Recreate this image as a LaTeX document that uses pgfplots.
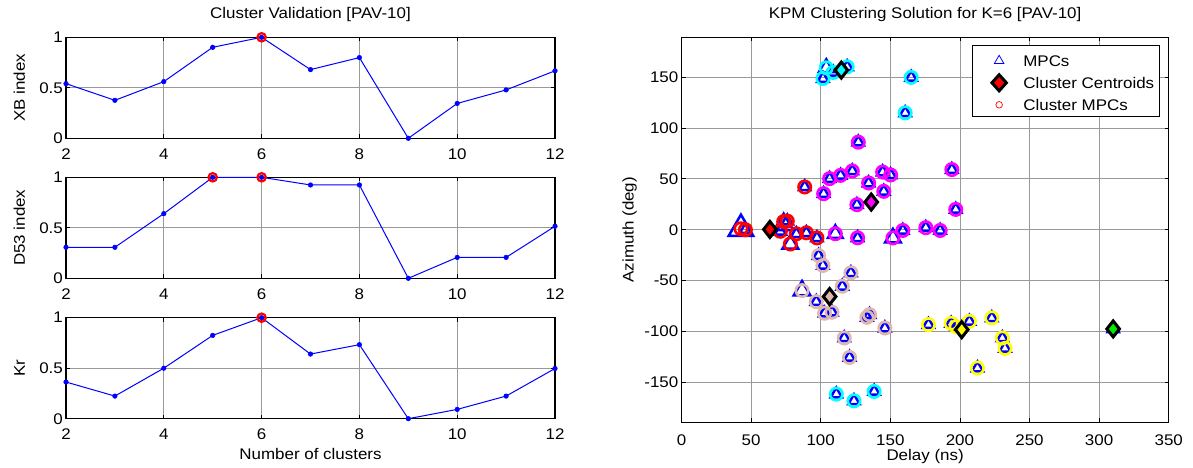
\documentclass[border=0pt]{standalone}
\usepackage{fontspec}
\setmainfont{Liberation Sans}[FakeStretch=1.1]
\usepackage{pgfplots}
\pgfplotsset{compat=1.18}
\definecolor{mblue}{rgb}{0,0,1}
\definecolor{mbrown}{RGB}{222,184,172}
\definecolor{mgreen}{RGB}{0,235,0}
\definecolor{mcyan}{rgb}{0,1,1}
\definecolor{mmag}{rgb}{1,0,1}
\definecolor{myel}{rgb}{1,1,0}

\pgfplotsset{
 common/.style={
  scale only axis, anchor=south west, clip=false,
  grid=major, major grid style={draw=black!40, line width=0.8pt},
  tick align=inside, major tick length=4pt,
  every tick/.style={black, line width=0.8pt},
  axis line style={line width=1.2pt},
  /pgf/number format/assume math mode=true,
  yticklabel style={anchor=east, inner sep=0pt, xshift=-3pt},
 },
 leftax/.style={
  common, width=489pt, height=101pt,
  xmin=2,xmax=12,ymin=0,ymax=1,
  xtick={2,4,6,8,10,12}, xticklabels={2,4,6,8,10,12},
  ytick={0,0.5,1}, yticklabels={0,0.5,1},
  xticklabel style={anchor=base, inner sep=0pt, yshift=-21pt},
  ylabel style={at={([xshift=-41pt]axis description cs:0,0.5)}, anchor=base},
 },
 vline/.style={mblue, line width=1pt, mark=*, mark size=2.3pt, mark options={fill=mblue, draw=mblue, line width=0.5pt}},
 vmax/.style={only marks, mark=o, mark size=4.2pt, red, mark options={line width=2.2pt}},
 mpc/.style={only marks, forget plot, mark=triangle, mblue, mark size=#1, mark options={line width=2.5pt, miter limit=10}},
 ring/.style={only marks, forget plot, mark=o, draw=#1, mark size=6.2pt, mark options={line width=2.6pt}},
 cent/.style={only marks, forget plot, mark=diamond*, mark size=8pt, mark options={draw=black, fill=#1, line width=3pt, xscale=1.05}},
}

\begin{document}
\begin{tikzpicture}[font=\fontsize{15.4}{18}\selectfont]
\path[use as bounding box] (0,0) rectangle (1193pt,468pt);

% ---------- XB index ----------
\begin{axis}[leftax, at={(66pt,329.7pt)}, ylabel={XB index},
  title={Cluster Validation [PAV-10]},
  title style={at={([yshift=13pt]axis description cs:0.5,1)}, anchor=base}]
\addplot[vline] coordinates {(2,0.541)(3,0.376)(4,0.561)(5,0.901)(6,1)(7,0.68)(8,0.799)(9,0)(10,0.345)(11,0.479)(12,0.668)};
\addplot[vmax] coordinates {(6,1)};
\end{axis}

% ---------- D53 index ----------
\begin{axis}[leftax, at={(66pt,189.7pt)}, ylabel={D53 index}]
\addplot[vline] coordinates {(2,0.307)(3,0.307)(4,0.64)(5,1)(6,1)(7,0.924)(8,0.924)(9,0)(10,0.207)(11,0.207)(12,0.515)};
\addplot[vmax] coordinates {(5,1)(6,1)};
\end{axis}

% ---------- Kr ----------
\begin{axis}[leftax, at={(66pt,49.3pt)}, ylabel={Kr}, xlabel={Number of clusters},
  xlabel style={at={([yshift=-41pt]axis description cs:0.5,0)}, anchor=base}]
\addplot[vline] coordinates {(2,0.363)(3,0.224)(4,0.5)(5,0.825)(6,1)(7,0.64)(8,0.733)(9,0)(10,0.092)(11,0.224)(12,0.497)};
\addplot[vmax] coordinates {(6,1)};
\end{axis}

% ---------- KPM scatter ----------
\begin{axis}[common, at={(681.5pt,45.8pt)}, width=487.2pt, height=384.9pt,
  xmin=0, xmax=350, ymin=-189, ymax=189,
  xtick={0,50,...,350}, xticklabels={0,50,100,150,200,250,300,350},
  ytick={-150,-100,...,150}, yticklabels={-150,-100,-50,0,50,100,150},
  xticklabel style={anchor=base, inner sep=0pt, yshift=-23pt},
  xlabel={Delay (ns)}, ylabel={Azimuth (deg)},
  xlabel style={at={([yshift=-38pt]axis description cs:0.5,0)}, anchor=base},
  ylabel style={at={([xshift=-48pt]axis description cs:0,0.5)}, anchor=base},
  title={KPM Clustering Solution for K=6 [PAV-10]},
  title style={at={([yshift=13pt]axis description cs:0.5,1)}, anchor=base},
  legend style={at={(rel axis cs:1,1)}, anchor=north east, xshift=-9pt, yshift=-8pt,
    draw=black, line width=1pt, fill=white, inner xsep=2.5pt, inner ysep=3pt,
    row sep=1pt,
    nodes={inner xsep=2.5pt, inner ysep=0pt, text height=18pt, text depth=3pt}},
  legend cell align=left,
]
\addlegendimage{only marks, mark=triangle, mblue, legend image code/.code={\path[draw=none, fill=none] (0pt,-8pt) rectangle (45.7pt,8pt);
  \draw[overlay, mblue, line width=0.8pt] plot[only marks, mark=triangle, mark size=5.5pt] coordinates {(24pt,-1.5pt)};}}
\addlegendentry{MPCs}
\addlegendimage{only marks, mark=diamond*, black, legend image code/.code={\path[draw=none, fill=none] (0pt,-8pt) rectangle (45.7pt,8pt);
  \draw[overlay] plot[only marks, mark=diamond*, mark size=8pt, mark options={draw=black, fill=red, line width=3pt, xscale=1.2}] coordinates {(24pt,-1.5pt)};}}
\addlegendentry{Cluster Centroids}
\addlegendimage{only marks, mark=o, red, legend image code/.code={\path[draw=none, fill=none] (0pt,-8pt) rectangle (45.7pt,8pt);
  \draw[overlay, red, line width=0.7pt] plot[only marks, mark=o, mark size=3.3pt] coordinates {(24pt,-1.5pt)};}}
\addlegendentry{Cluster MPCs}

% MPC triangles (normal size)
\addplot[mpc=6.5pt] coordinates {
 (101.6,148.5)(109,154.5)(119,160)(165,149.6)(160.7,114.8)(111.2,-161.4)(123.9,-168)(138.4,-158.8)
 (127,86)(106.4,50.2)(114.3,53.4)(122.7,57.7)(144.5,56.7)(150.2,53.8)(102.1,35.4)(134.4,45.9)
 (145.3,37.7)(126,24.6)(126.5,-7.9)(159,-0.7)(175.5,2)(185.8,-0.7)(194.2,59.1)(197,20)
 (45.9,0)(76,8.5)(71,-1.5)(82.5,-4)(89.7,-3)(97.3,-8)(88.5,42)
 (98.5,-25.3)(101.6,-35.1)(121.7,-42.3)(115.5,-55.5)(96.8,-70.6)(102.8,-82)(108.1,-81)
 (133.2,-86)(135.1,-83.4)(146.1,-96.5)(116.9,-106.3)(120.7,-125.4)
 (177.4,-93.2)(193.7,-91.9)(197.3,-95.2)(206.8,-90)(222.9,-86.6)(230.5,-106.3)(232.4,-116.5)(212.6,-135.8)
 (310.1,-97.4)};
% larger MPC triangles
\addplot[mpc=14.2pt] coordinates {(42.7,0.9)};
\addplot[mpc=11pt] coordinates {(73.4,5)};
\addplot[mpc=9pt] coordinates {(78.2,-14)(151.9,-8)};
\addplot[mpc=8.5pt] coordinates {(110.5,-3.9)(104,159)};
\addplot[mpc=9.5pt] coordinates {(86.6,-59.7)};

% cluster MPC rings
\addplot[ring=red] coordinates {(42.7,0.9)(45.9,0)(73.4,8)(76,8.5)(71,-1.5)(78.2,-14)(82.5,-4)(89.7,-3)(97.3,-8)(88.5,42)};
\addplot[ring=mcyan] coordinates {(101.6,148.5)(104,159)(109,154.5)(119,160)(165,149.6)(160.7,114.8)(111.2,-161.4)(123.9,-168)(138.4,-158.8)};
\addplot[ring=mmag] coordinates {(127,86)(106.4,50.2)(114.3,53.4)(122.7,57.7)(144.5,56.7)(150.2,53.8)(102.1,35.4)(134.4,45.9)
 (145.3,37.7)(126,24.6)(126.5,-7.9)(159,-0.7)(175.5,2)(185.8,-0.7)(194.2,59.1)(197,20)(110.5,-3.9)(151.9,-8)};
\addplot[ring=mbrown] coordinates {(98.5,-25.3)(101.6,-35.1)(121.7,-42.3)(115.5,-55.5)(96.8,-70.6)(102.8,-82)(108.1,-81)
 (133.2,-86)(135.1,-83.4)(146.1,-96.5)(116.9,-106.3)(120.7,-125.4)(86.6,-59.7)};
\addplot[ring=myel] coordinates {(177.4,-93.2)(193.7,-91.9)(197.3,-95.2)(206.8,-90)(222.9,-86.6)(230.5,-106.3)(232.4,-116.5)(212.6,-135.8)};

% centroids
\addplot[cent=red] coordinates {(63.5,0.3)};
\addplot[cent=mcyan] coordinates {(114.8,156.8)};
\addplot[cent=mmag] coordinates {(136.3,27.2)};
\addplot[cent=mbrown] coordinates {(106.4,-65.6)};
\addplot[cent=myel] coordinates {(201.3,-98.1)};
\addplot[cent=mgreen] coordinates {(310.1,-97.4)};
\end{axis}
\end{tikzpicture}
\end{document}
